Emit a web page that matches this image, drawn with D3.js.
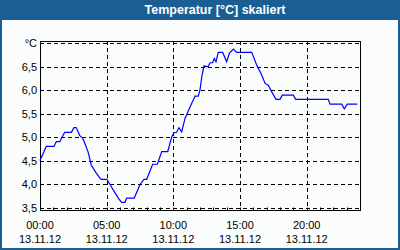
<!DOCTYPE html>
<html>
<head>
<meta charset="utf-8">
<script src="https://cdn.jsdelivr.net/npm/d3@7"></script>
<style>
  body { margin: 0; background: #fff; }
  svg text { font-family: "Liberation Sans", Arial, sans-serif; }
</style>
</head>
<body>
<div id="chart"></div>
<script>

// hours since 00:00 on 13.11.12, temperature in degC
var hours = [0, 0.47, 1.05, 1.22, 1.48, 1.85, 2.35, 2.55, 2.72, 2.98, 3.22, 3.6, 3.85, 4.22, 4.48, 4.58,
    5.02, 5.35, 5.5, 5.87, 6.12, 6.37, 6.5, 7.07, 7.5, 7.8, 8.0, 8.45, 8.8, 9.13, 9.58, 9.88,
    10.05, 10.25, 10.42, 10.63, 10.88, 11.38, 11.63, 11.87, 12.0, 12.13, 12.3, 12.62, 12.75, 12.95,
    13.07, 13.2, 13.37, 13.7, 14.0, 14.2, 14.5, 14.75, 15.88, 16.25, 16.63, 16.88, 17.12, 17.38,
    17.7, 18.0, 18.17, 19.0, 19.18, 21.62, 21.75, 22.63, 22.82, 23.05, 23.8];
var temps = [4.5, 4.8, 4.8, 4.9, 4.9, 5.1, 5.1, 5.2, 5.2, 5.03, 4.97, 4.69, 4.4, 4.23, 4.13, 4.1,
    4.1, 3.94, 3.87, 3.7, 3.61, 3.61, 3.7, 3.7, 3.99, 4.1, 4.1, 4.42, 4.42, 4.69, 4.69, 5.0,
    5.09, 5.1, 5.2, 5.11, 5.4, 5.72, 5.87, 5.87, 6.0, 6.28, 6.51, 6.5, 6.58, 6.58,
    6.67, 6.6, 6.8, 6.8, 6.6, 6.78, 6.87, 6.8, 6.8, 6.53, 6.32, 6.14, 6.1, 5.96,
    5.8, 5.8, 5.89, 5.89, 5.8, 5.8, 5.7, 5.7, 5.6, 5.7, 5.7];

var yTicks = [3.5, 4.0, 4.5, 5.0, 5.5, 6.0, 6.5];
var xTicks = [0, 5, 10, 15, 20];
var xLabels = ["00:00", "05:00", "10:00", "15:00", "20:00"];
var dateLabel = "13.11.12";
var title = "Temperatur [°C] skaliert";
var unit = "°C";

var W = 400, H = 250;
var m = {left: 40, right: 360, top: 41, bottom: 210};

var svg = d3.select("#chart").append("svg")
    .attr("width", W)
    .attr("height", H);

// frame + title bar
svg.append("rect").attr("width", W).attr("height", H).attr("fill", "#1b5e93");
svg.append("rect").attr("x", 2).attr("y", 20).attr("width", W - 4).attr("height", H - 22).attr("fill", "#fafdfb");

svg.append("text")
    .attr("x", 215)
    .attr("y", 14)
    .attr("text-anchor", "middle")
    .attr("fill", "#fff")
    .attr("font-size", "12.5px")
    .attr("font-weight", "bold")
    .text(title);

var x = d3.scaleLinear().domain([0, 24]).range([m.left, m.right]);
var y = d3.scaleLinear().domain([3.5, 7.0]).range([207.5, 43]);

var g = svg.append("g");

// grid
g.selectAll(".hgrid")
    .data(yTicks.concat([7.0]))
    .enter().append("line")
    .attr("x1", m.left).attr("x2", m.right)
    .attr("y1", function(d) { return Math.round(y(d)) + 0.5; })
    .attr("y2", function(d) { return Math.round(y(d)) + 0.5; })
    .attr("stroke", "#000")
    .attr("stroke-dasharray", "4,3");

g.selectAll(".vgrid")
    .data(xTicks.slice(1))
    .enter().append("line")
    .attr("y1", m.top).attr("y2", m.bottom)
    .attr("x1", function(d) { return Math.round(x(d)) + 0.5; })
    .attr("x2", function(d) { return Math.round(x(d)) + 0.5; })
    .attr("stroke", "#000")
    .attr("stroke-dasharray", "4,3");

// bottom axis, hourly ticks pointing inward
var xAxis = d3.axisBottom(x)
    .tickValues(d3.range(1, 24))
    .tickSize(-3)
    .tickSizeOuter(0)
    .tickFormat("");
var ax = svg.append("g")
    .attr("transform", "translate(0.5," + (m.bottom + 0.5) + ")")
    .call(xAxis);
ax.select(".domain").remove();
ax.selectAll(".tick").attr("transform", function(d) { return "translate(" + Math.round(x(d)) + ",0)"; });
ax.selectAll("line").attr("stroke", "#000");

// plot border
svg.append("rect")
    .attr("x", m.left + 0.5).attr("y", m.top + 0.5)
    .attr("width", m.right - m.left).attr("height", m.bottom - m.top)
    .attr("fill", "none")
    .attr("stroke", "#000");

// y labels
svg.selectAll(".ylab")
    .data(yTicks)
    .enter().append("text")
    .attr("x", 37)
    .attr("y", function(d) { return y(d) + 4; })
    .attr("text-anchor", "end")
    .attr("font-size", "11px")
    .attr("fill", "#000")
    .text(function(d) { return d3.format(".1f")(d).replace(".", ","); });

svg.append("text")
    .attr("x", 37)
    .attr("y", y(7.0) + 4)
    .attr("text-anchor", "end")
    .attr("font-size", "11px")
    .text(unit);

// x labels
var xl = svg.selectAll(".xlab")
    .data(xTicks)
    .enter().append("g")
    .attr("transform", function(d) { return "translate(" + x(d) + ",0)"; });
xl.append("text")
    .attr("y", 229)
    .attr("text-anchor", "middle")
    .attr("font-size", "11px")
    .text(function(d, i) { return xLabels[i]; });
xl.append("text")
    .attr("y", 243)
    .attr("text-anchor", "middle")
    .attr("font-size", "11px")
    .text(dateLabel);

// data line
var line = d3.line()
    .x(function(d) { return x(d[0]); })
    .y(function(d) { return y(d[1]); });

svg.append("path")
    .datum(d3.zip(hours, temps))
    .attr("d", line)
    .attr("fill", "none")
    .attr("stroke", "#0000ff")
    .attr("stroke-width", 1.2);

</script>
</body>
</html>
